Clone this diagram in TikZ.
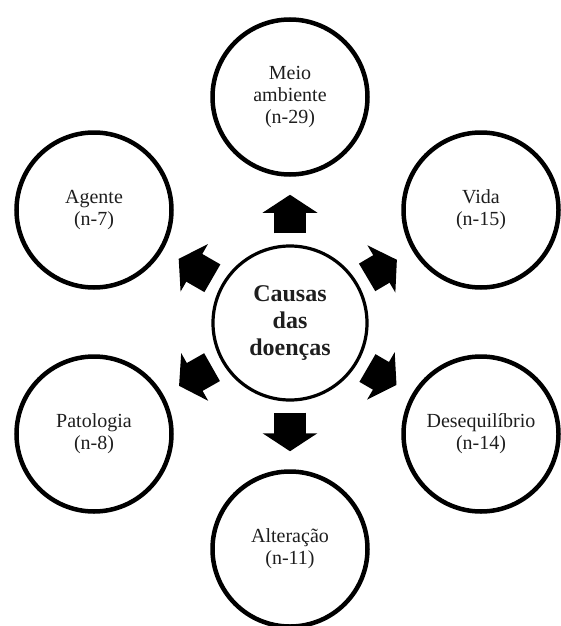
\documentclass[tikz,border=0pt]{standalone}
\usepackage{fontspec}
\setmainfont{Liberation Serif}
\usepackage{tikz}
\usetikzlibrary{arrows.meta}
\definecolor{causetext}{RGB}{30,30,30}

\begin{document}
\begin{tikzpicture}[x=1pt, y=-1pt,
      ring/.style={circle, draw=black, line width=4.5pt, minimum size=155pt, inner sep=0pt, align=center, text=causetext, font=\fontsize{20}{22}\selectfont},
      hub/.style={circle, draw=black, line width=3.2pt, minimum size=154pt, inner sep=0pt, align=center, text=causetext, font=\fontsize{24}{27}\selectfont\bfseries},
      blockarrow/.style={line width=32pt, -{Triangle[width=54pt, length=18pt]}, shorten <=11pt, shorten >=18pt}
    ]
      \useasboundingbox (0,0) rectangle (560,626);

      % centre
      \node[hub] (causas) at (290, 323) {Causas\\das\\doenças};

      % causes around the centre
      \node[ring] (meio) at (290, 97) {Meio\\ambiente\\(n-29)};
      \node[ring] (vida) at (481, 210) {Vida\\(n-15)};
      \node[ring] (deseq) at (481, 434) {Desequilíbrio\\(n-14)};
      \node[ring] (alter) at (290, 549) {Alteração\\(n-11)};
      \node[ring] (pato) at (94, 434) {Patologia\\(n-8)};
      \node[ring] (agente) at (94, 210) {Agente\\(n-7)};

      % arrows
      \foreach \target in {meio, vida, deseq, alter, pato, agente}
        \draw[blockarrow] (causas) -- (\target);
    \end{tikzpicture}
\end{document}
